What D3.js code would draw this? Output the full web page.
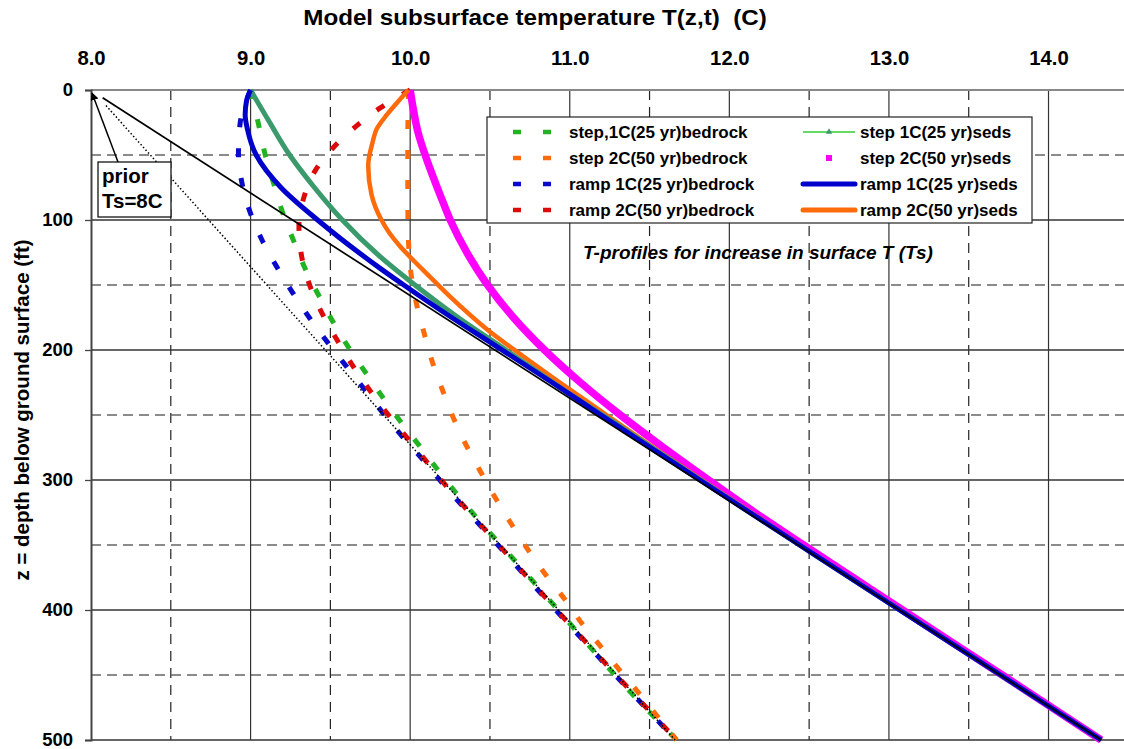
<!DOCTYPE html>
<html><head><meta charset="utf-8">
<script src="https://cdn.jsdelivr.net/npm/d3@7"></script>
<style>
body{margin:0;background:#fff}
svg{display:block}
text{font-family:"Liberation Sans",Arial,Helvetica,sans-serif;font-weight:bold;fill:#000;white-space:pre}
</style>
</head><body>
<svg id="chart" width="1124" height="749"></svg>
<script>
// ---------------- data ([depth ft, temperature C]) ----------------
const xTicks = [8, 9, 10, 11, 12, 13, 14];
const xTickLabels = ["8.0", "9.0", "10.0", "11.0", "12.0", "13.0", "14.0"];
const yTicks = [0, 100, 200, 300, 400, 500];
const xMinor = [8.5, 9.5, 10.5, 11.5, 12.5, 13.5];
const yMinor = [50, 150, 250, 350, 450];

const step1Bed = [[0,9.0],[26,9.049],[49,9.09],[72,9.145],[94,9.20],[117,9.273],[139,9.348],[159,9.431],[180,9.524],[200,9.624],[219,9.73],[239,9.843],[258,9.958],[276,10.073],[295,10.19],[331,10.43],[364,10.67],[399,10.92],[433,11.16],[467,11.41],[500,11.67]];
const step2Bed = [[0,9.99],[40,9.985],[80,9.985],[110,9.988],[125,9.993],[140,10.004],[162,10.035],[185,10.083],[208,10.136],[230,10.20],[252,10.27],[273,10.35],[294,10.443],[315,10.54],[335,10.64],[354,10.74],[373,10.85],[392,10.97],[411,11.08],[429,11.20],[447,11.317],[465,11.44],[483,11.557],[500,11.67]];
const ramp1Bed = [[0,9.0],[26,8.934],[49,8.924],[71,8.945],[94,8.997],[115,9.07],[136,9.164],[156,9.264],[176,9.373],[195,9.488],[213,9.603],[231,9.718],[249,9.833],[267,9.954],[283,10.07],[300,10.185],[350,10.55],[400,10.912],[450,11.285],[500,11.665]];
const ramp2Bed = [[0,10.0],[14,9.81],[28,9.66],[44,9.52],[62,9.405],[83,9.333],[104,9.303],[128,9.32],[151,9.373],[173,9.453],[194,9.55],[213,9.645],[232,9.753],[251,9.87],[269,9.99],[287,10.11],[300,10.195],[350,10.556],[400,10.918],[450,11.29],[500,11.67]];

const step1Seds = [[0,9.0],[25,9.12],[50,9.245],[75,9.40],[100,9.575],[128,9.81],[150,10.03],[175,10.30],[200,10.60],[233,10.99],[260,11.33],[300,11.82],[350,12.44],[400,13.07],[450,13.70],[500,14.33]];
const step2Seds = [[0,10.0],[15,10.02],[31,10.046],[56,10.111],[82,10.192],[100,10.251],[126,10.36],[150,10.485],[175,10.647],[200,10.842],[225,11.067],[250,11.317],[275,11.587],[300,11.87],[325,12.16],[350,12.465],[375,12.775],[400,13.085],[450,13.71],[500,14.33]];
const ramp1Seds = [[0,9.0],[8,8.975],[19,8.966],[30,8.98],[50,9.035],[75,9.19],[100,9.42],[137,9.81],[150,9.96],[175,10.26],[194,10.50],[225,10.89],[250,11.195],[300,11.815],[350,12.44],[400,13.067],[450,13.70],[500,14.33]];
const ramp2Seds = [[0,9.99],[8,9.93],[19,9.854],[30,9.79],[40,9.765],[58,9.737],[80,9.757],[100,9.82],[110,9.87],[120,9.935],[130,10.012],[143,10.118],[159,10.25],[185,10.49],[205,10.71],[225,10.938],[250,11.23],[275,11.525],[300,11.828],[350,12.442],[400,13.07],[450,13.70],[500,14.33]];

const priorSeds = [[6,8.073],[500,14.33]];      // solid black geotherm
const priorBed  = [[12,8.094],[500,11.66]];     // dotted black geotherm

const legendLeft  = ["step,1C(25 yr)bedrock", "step 2C(50 yr)bedrock", "ramp 1C(25 yr)bedrock", "ramp 2C(50 yr)bedrock"];
const legendRight = ["step 1C(25 yr)seds", "step 2C(50 yr)seds", "ramp 1C(25 yr)seds", "ramp 2C(50 yr)seds"];

// ---------------- drawing ----------------
const svg = d3.select("#chart");
const x = d3.scaleLinear().domain([8, 14.473]).range([91, 1124]);
const y = d3.scaleLinear().domain([0, 500]).range([90, 740]);
const FONT = '"Liberation Sans",Arial,Helvetica,sans-serif';

function label(parent, px, py, str, size, sx, anchor, italic) {
  const t = parent.append("g").attr("transform", `translate(${px},${py}) scale(${sx},1)`)
    .append("text").attr("x", 0).attr("y", 0).attr("font-size", size)
    .attr("text-anchor", anchor || "start").text(str);
  if (italic) t.style("font-style", "italic");
  return t;
}

// grid
const g = svg.append("g");
g.selectAll(".vmin").data(xMinor).join("line")
  .attr("x1", d => x(d)).attr("x2", d => x(d)).attr("y1", y(0)).attr("y2", y(500))
  .attr("stroke", "#222").attr("stroke-width", 1.2).attr("stroke-dasharray", "10,7");
g.selectAll(".hmin").data(yMinor).join("line")
  .attr("x1", x(8)).attr("x2", 1124).attr("y1", d => y(d)).attr("y2", d => y(d))
  .attr("stroke", "#666").attr("stroke-width", 1.5).attr("stroke-dasharray", "10,6");
g.selectAll(".vmaj").data(xTicks.slice(1)).join("line")
  .attr("x1", d => x(d)).attr("x2", d => x(d)).attr("y1", y(0)).attr("y2", y(500))
  .attr("stroke", "#333").attr("stroke-width", 1.2);
g.selectAll(".hmaj").data(yTicks.slice(1)).join("line")
  .attr("x1", x(8)).attr("x2", 1124).attr("y1", d => y(d)).attr("y2", d => y(d))
  .attr("stroke", "#333").attr("stroke-width", 1.3);
g.append("line").attr("x1", x(8)).attr("x2", 1124).attr("y1", y(0)).attr("y2", y(0))
  .attr("stroke", "#888").attr("stroke-width", 2);

// axes
const xAxis = d3.axisTop(x).tickValues(xTicks).tickSize(0).tickPadding(25)
  .tickFormat((d, i) => xTickLabels[i]);
const xa = svg.append("g").attr("transform", `translate(0,${y(0)})`).call(xAxis);
xa.select(".domain").remove();
xa.selectAll("text").attr("font-size", 19.5).attr("transform", "scale(1.04,1)")
  .style("font-family", FONT).style("font-weight", "bold").attr("fill", "#000");

const yAxis = d3.axisLeft(y).tickValues(yTicks).tickSize(6).tickPadding(12);
const ya = svg.append("g").attr("transform", `translate(${x(8)},0)`).call(yAxis);
ya.select(".domain").attr("stroke", "#444").attr("stroke-width", 2);
ya.selectAll(".tick line").attr("stroke", "#444").attr("stroke-width", 1.3);
ya.selectAll("text").attr("font-size", 18.5)
  .style("font-family", FONT).style("font-weight", "bold").attr("fill", "#000");

// titles
label(svg, 535, 25, "Model subsurface temperature T(z,t)  (C)", 22, 1.1, "middle");
svg.append("text").attr("transform", "translate(29,410) rotate(-90)").attr("text-anchor", "middle")
  .attr("font-size", 20.5).text("z = depth below ground surface (ft)");

// series
const line = d3.line().x(d => x(d[1])).y(d => y(d[0])).curve(d3.curveMonotoneY);
const dashed = "9,21";
const series = [
  {data: step1Bed, color: "#22b322", width: 5, dash: dashed},
  {data: step2Bed, color: "#ff6a0a", width: 5, dash: dashed},
  {data: ramp1Bed, color: "#0a0acc", width: 5, dash: dashed},
  {data: ramp2Bed, color: "#dd0a0a", width: 5, dash: dashed},
  {data: step2Seds, color: "#ff00ff", width: 7.5, dash: null},
  {data: ramp2Seds, color: "#ff6a0a", width: 4.5, dash: null},
  {data: step1Seds, color: "#3a9a6c", width: 5, dash: null},
  {data: ramp1Seds, color: "#0000cc", width: 5, dash: null}
];
const sg = svg.append("g");
series.forEach(s => {
  sg.append("path").datum(s.data).attr("d", line).attr("fill", "none")
    .attr("stroke", s.color).attr("stroke-width", s.width)
    .attr("stroke-dasharray", s.dash).attr("stroke-linejoin", "round");
});
const straight = d3.line().x(d => x(d[1])).y(d => y(d[0]));
sg.append("path").datum(priorBed).attr("d", straight).attr("fill", "none")
  .attr("stroke", "#000").attr("stroke-width", 1.5).attr("stroke-dasharray", "1.5,2.2");
sg.append("path").datum(priorSeds).attr("d", straight).attr("fill", "none")
  .attr("stroke", "#000").attr("stroke-width", 1.7);

// prior annotation
svg.append("defs").append("marker").attr("id", "arr").attr("viewBox", "0 0 10 10")
  .attr("refX", 9).attr("refY", 5).attr("markerWidth", 8).attr("markerHeight", 8)
  .attr("orient", "auto").attr("markerUnits", "userSpaceOnUse")
  .append("path").attr("d", "M0,0L10,5L0,10z").attr("fill", "#000");
svg.append("line").attr("x1", 118).attr("y1", 162).attr("x2", x(8) + 1).attr("y2", y(0) + 3)
  .attr("stroke", "#000").attr("stroke-width", 1.5).attr("marker-end", "url(#arr)");
svg.append("rect").attr("x", 98).attr("y", 162).attr("width", 73).attr("height", 55)
  .attr("fill", "#fff").attr("stroke", "#000").attr("stroke-width", 1.2);
svg.append("text").attr("x", 102).attr("y", 183).attr("font-size", 20.5).text("prior");
svg.append("text").attr("x", 102).attr("y", 208).attr("font-size", 20.5).text("Ts=8C");

// subtitle
label(svg, 583, 259, "T-profiles for increase in surface T (Ts)", 19, 1.0, "start", true);

// legend
const lg = svg.append("g");
lg.append("rect").attr("x", 487).attr("y", 117).attr("width", 545).attr("height", 106)
  .attr("fill", "#fff").attr("stroke", "#222").attr("stroke-width", 1.2);
const rowY = [132, 158, 184, 210];
const leftColors = ["#22b322", "#ff6a0a", "#0a0acc", "#dd0a0a"];
legendLeft.forEach((t, i) => {
  lg.append("line").attr("x1", 513).attr("x2", 553).attr("y1", rowY[i]).attr("y2", rowY[i])
    .attr("stroke", leftColors[i]).attr("stroke-width", 4.5).attr("stroke-dasharray", "8,22");
  label(lg, 569, rowY[i] + 6, t, 17, 1.0, "start");
});
legendRight.forEach((t, i) => {
  label(lg, 860, rowY[i] + 6, t, 17, 1.0, "start");
});
lg.append("line").attr("x1", 803).attr("x2", 855).attr("y1", rowY[0]).attr("y2", rowY[0])
  .attr("stroke", "#33cc33").attr("stroke-width", 1.5);
lg.append("path").attr("d", d3.symbol(d3.symbolTriangle, 18)()).attr("transform", `translate(829,${rowY[0]})`).attr("fill", "#3a9a6c");
lg.append("rect").attr("x", 826).attr("y", rowY[1] - 3).attr("width", 6).attr("height", 6).attr("fill", "#ff00ff");
lg.append("line").attr("x1", 803).attr("x2", 855).attr("y1", rowY[2]).attr("y2", rowY[2])
  .attr("stroke", "#0000cc").attr("stroke-width", 5).attr("stroke-linecap", "round");
lg.append("line").attr("x1", 803).attr("x2", 855).attr("y1", rowY[3]).attr("y2", rowY[3])
  .attr("stroke", "#ff6a0a").attr("stroke-width", 5).attr("stroke-linecap", "round");
</script>
</body></html>
